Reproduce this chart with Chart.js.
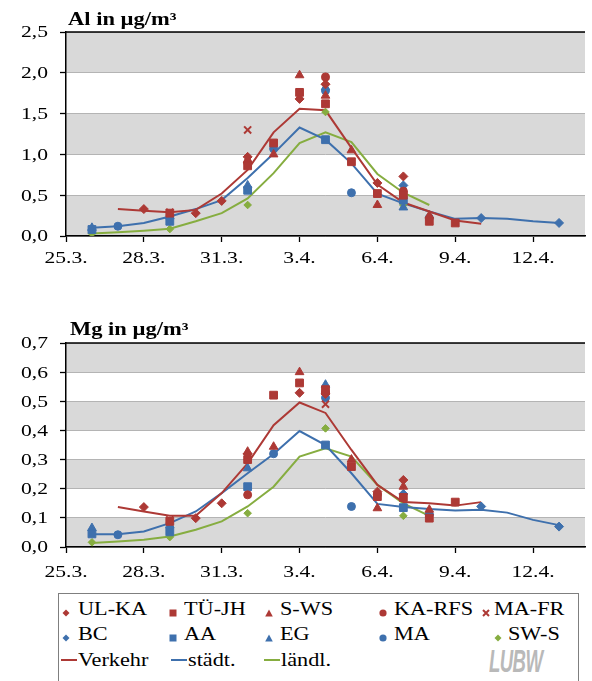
<!DOCTYPE html>
<html>
<head>
<meta charset="utf-8">
<script src="https://cdn.jsdelivr.net/npm/chart.js@4.4.1/dist/chart.umd.min.js"></script>
<style>
  body { margin: 0; width: 592px; height: 681px; overflow: hidden; background: #fff; position: relative;
         font-family: "Liberation Serif", "Times New Roman", serif; }
  #alChart { position: absolute; left: 0; top: 0; }
  #mgChart { position: absolute; left: 0; top: 290px; }
  #legend { position: absolute; left: 58px; top: 593px; width: 521px; height: 92px;
            border: 1.5px solid #7f7f7f; box-sizing: border-box; }
  .item { position: absolute; font-size: 19px; line-height: 22px; white-space: nowrap; color: #000;
          transform: scaleX(1.17); transform-origin: left center; }
  .mark { position: absolute; }
  #logo { position: absolute; left: 489px; top: 644px; font-family: "Liberation Sans", Arial, sans-serif;
          font-weight: bold; font-style: italic; font-size: 31px; color: #b9b9b9; letter-spacing: -1px;
          transform: scaleX(0.6); transform-origin: left top; }
</style>
</head>
<body>
<canvas id="alChart" width="592" height="290"></canvas>
<canvas id="mgChart" width="592" height="300"></canvas>
<div id="legend"></div>
<div id="logo">LUBW</div>
<script>
const N = null;
// x = day index, 0 = 25.3.
const days = ["25.3.", "26.3.", "27.3.", "28.3.", "29.3.", "30.3.", "31.3.", "1.4.", "2.4.", "3.4.",
              "4.4.", "5.4.", "6.4.", "7.4.", "8.4.", "9.4.", "10.4.", "11.4.", "12.4.", "13.4."];
const tickLabels = ["25.3.", "28.3.", "31.3.", "3.4.", "6.4.", "9.4.", "12.4."];

// Al in µg/m³
const alUlKa    = [N, N, N, 0.33, N, 0.28, 0.43, 0.97, N, 1.68, 1.86, N, 0.65, 0.73, N, N, N, N, N, N];
const alTuJh    = [N, N, N, N, 0.28, N, N, 0.86, 1.14, 1.76, 1.62, 0.91, 0.52, 0.50, 0.18, 0.16, N, N, N, N];
const alSWs     = [N, N, N, N, N, N, N, 0.93, 1.00, 1.97, 1.72, 1.05, 0.38, N, 0.25, N, N, N, N, N];
const alKaRfs   = [N, N, N, N, N, N, N, 0.90, N, N, 1.95, N, N, 0.55, N, N, N, N, N, N];
const alMaFr    = [N, N, N, N, 0.29, N, N, 1.30, N, N, 1.89, N, N, N, N, N, N, N, N, N];
const alBC      = [N, N, N, N, N, N, N, N, N, N, N, N, N, 0.62, N, N, 0.22, N, N, 0.16];
const alAA      = [N, 0.08, N, N, 0.18, N, N, 0.56, N, N, 1.18, N, N, 0.44, N, N, N, N, N, N];
const alEG      = [N, 0.10, N, N, 0.24, N, N, 0.62, N, N, 1.82, N, N, 0.35, N, N, N, N, N, N];
const alMA      = [N, N, 0.12, N, N, N, N, N, 1.07, N, 1.78, 0.53, N, N, 0.22, N, N, N, N, N];
const alSwS     = [N, 0.03, N, N, 0.085, N, N, 0.38, N, N, 1.52, N, N, 0.38, N, N, N, N, N, N];
const alVerkehr = [N, N, 0.33, 0.31, 0.29, 0.32, 0.52, 0.81, 1.27, 1.56, 1.54, 1.08, 0.63, 0.41, 0.30, 0.19, 0.15, N, N, N];
const alStaedt  = [N, 0.10, 0.12, 0.16, 0.24, 0.33, 0.44, 0.71, 1.01, 1.33, 1.18, 0.89, 0.52, 0.40, 0.30, 0.21, 0.22, 0.21, 0.18, 0.16];
const alLaendl  = [N, 0.03, 0.045, 0.065, 0.09, 0.18, 0.28, 0.46, 0.77, 1.14, 1.27, 1.15, 0.76, 0.53, 0.38, N, N, N, N, N];

// Mg in µg/m³
const mgUlKa    = [N, N, N, 0.137, N, 0.099, 0.15, 0.32, N, 0.529, 0.525, N, 0.19, 0.23, N, N, N, N, N, N];
const mgTuJh    = [N, N, N, N, 0.088, N, N, 0.30, 0.521, 0.563, 0.54, 0.276, 0.173, 0.17, 0.099, 0.154, N, N, N, N];
const mgSWs     = [N, N, N, N, N, N, N, 0.327, 0.344, 0.60, 0.535, 0.30, 0.133, 0.207, 0.128, N, N, N, N, N];
const mgKaRfs   = [N, N, N, N, N, N, N, 0.179, N, N, 0.53, N, 0.18, N, N, N, N, N, N, N];
const mgMaFr    = [N, N, N, N, 0.093, N, N, 0.31, N, N, 0.49, N, N, N, N, N, N, N, N, N];
const mgBC      = [N, N, N, N, N, N, N, N, N, N, N, N, N, 0.182, N, N, 0.139, N, N, 0.07];
const mgAA      = [N, 0.045, N, N, 0.052, N, N, 0.207, N, N, 0.35, N, N, 0.135, N, N, N, N, N, N];
const mgEG      = [N, 0.065, N, N, 0.075, N, N, 0.27, N, N, 0.557, N, N, N, 0.12, N, N, N, N, N];
const mgMA      = [N, N, 0.042, N, N, N, N, N, 0.32, N, 0.512, 0.139, N, N, 0.11, N, N, N, N, N];
const mgSwS     = [N, 0.016, N, N, 0.034, N, N, 0.116, N, N, 0.407, N, N, 0.107, N, N, N, N, N, N];
const mgVerkehr = [N, N, 0.137, 0.122, 0.107, 0.107, 0.185, 0.287, 0.418, 0.496, 0.46, 0.333, 0.213, 0.154, 0.15, 0.142, 0.154, N, N, N];
const mgStaedt  = [N, 0.044, 0.044, 0.053, 0.082, 0.122, 0.185, 0.253, 0.319, 0.398, 0.35, 0.253, 0.148, 0.137, 0.13, 0.125, 0.128, 0.118, 0.093, 0.075];
const mgLaendl  = [N, 0.014, 0.019, 0.025, 0.036, 0.059, 0.088, 0.139, 0.207, 0.31, 0.339, 0.31, 0.213, 0.15, 0.107, N, N, N, N, N];

const RED = "#ad3935";
const BLUE = "#3e70ad";
const GREEN = "#86ad40";
const FONT = "'Liberation Serif', 'Times New Roman', serif";
const SX = 1.27; // the original lettering is wide, stretch it

const stations = [
  { label: "UL-KA", color: RED, style: "rectRot", r: 4.5 },
  { label: "TÜ-JH", color: RED, style: "rect", r: 5.5 },
  { label: "S-WS", color: RED, style: "triangle", r: 5 },
  { label: "KA-RFS", color: RED, style: "circle", r: 4 },
  { label: "MA-FR", color: RED, style: "crossRot", r: 5 },
  { label: "BC", color: BLUE, style: "rectRot", r: 4.5 },
  { label: "AA", color: BLUE, style: "rect", r: 5.5 },
  { label: "EG", color: BLUE, style: "triangle", r: 5 },
  { label: "MA", color: BLUE, style: "circle", r: 4 },
  { label: "SW-S", color: GREEN, style: "rectRot", r: 3.8 }
];
const groups = [
  { label: "Verkehr", color: RED },
  { label: "städt.", color: BLUE },
  { label: "ländl.", color: GREEN }
];

function toPoints(arr) {
  return arr.map((v, i) => (v == null ? null : { x: i, y: v })).filter(p => p);
}

function stretchText(ctx, text, x, y, sx) {
  ctx.save();
  ctx.translate(x, y);
  ctx.scale(sx, 1);
  ctx.fillText(text, 0, 0);
  ctx.restore();
}

function makeChart(id, opt) {
  const datasets = [];
  opt.stations.forEach((arr, i) => {
    const s = stations[i];
    datasets.push({
      label: s.label, data: toPoints(arr), showLine: false,
      pointStyle: s.style, pointRadius: s.r, pointHoverRadius: s.r,
      pointBackgroundColor: s.color, pointBorderColor: s.color,
      pointBorderWidth: s.style == "crossRot" ? 2 : 1
    });
  });
  opt.lines.forEach((arr, i) => {
    const g = groups[i];
    datasets.push({
      label: g.label, data: toPoints(arr), borderColor: g.color, borderWidth: 2,
      pointRadius: 0, tension: 0, fill: false
    });
  });

  const deco = {
    id: "deco",
    beforeDraw(chart) {
      const { ctx, chartArea: a, scales: { y } } = chart;
      ctx.save();
      ctx.fillStyle = "#d9d9d9";
      for (let v = 0; v < opt.yMax - 1e-9; v += 2 * opt.step) {
        const top = y.getPixelForValue(Math.min(v + opt.step, opt.yMax));
        const bot = y.getPixelForValue(v);
        ctx.fillRect(a.left, top, a.right - a.left, bot - top);
      }
      ctx.restore();
    },
    afterDraw(chart) {
      const { ctx, chartArea: a, scales: { x, y } } = chart;
      ctx.save();
      ctx.strokeStyle = "#000";
      ctx.lineWidth = 1.5;
      ctx.beginPath();
      ctx.moveTo(a.left, a.top);
      ctx.lineTo(a.right, a.top);
      ctx.stroke();

      ctx.fillStyle = "#000";
      ctx.font = "17px " + FONT;
      ctx.textBaseline = "middle";
      ctx.textAlign = "right";
      y.ticks.forEach(t => {
        stretchText(ctx, t.value.toFixed(1).replace(".", ","), 48, y.getPixelForValue(t.value) + 1, SX);
      });
      ctx.textAlign = "center";
      x.ticks.forEach(t => {
        const lbl = tickLabels[t.value / 3];
        if (lbl) stretchText(ctx, lbl, x.getPixelForValue(t.value), a.bottom + opt.labelGap, SX);
      });

      ctx.textAlign = "left";
      ctx.textBaseline = "alphabetic";
      ctx.font = "bold 18px " + FONT;
      stretchText(ctx, opt.title, opt.titleX, opt.titleY, 1.25);
      ctx.restore();
    }
  };

  return new Chart(document.getElementById(id), {
    type: "line",
    data: { datasets },
    plugins: [deco],
    options: {
      responsive: false,
      animation: false,
      layout: { padding: { top: opt.padTop, right: 1, left: 0, bottom: 0 } },
      plugins: { legend: { display: false }, tooltip: { enabled: false } },
      scales: {
        x: {
          type: "linear", min: 0, max: 20,
          afterFit: s => { s.height = opt.xHeight; },
          ticks: {
            stepSize: 3, autoSkip: false, includeBounds: false, maxRotation: 0,
            callback: v => tickLabels[v / 3] || "",
            font: { family: FONT, size: 17 }, color: "rgba(0,0,0,0)", padding: 8
          },
          grid: { drawOnChartArea: false, drawTicks: true, tickLength: 6, tickColor: "#000", tickWidth: 1.3 },
          border: { color: "#000", width: 1.5 }
        },
        y: {
          min: 0, max: opt.yMax,
          afterFit: s => { s.width = 66; },
          ticks: {
            stepSize: opt.step,
            callback: v => v.toFixed(1).replace(".", ","),
            font: { family: FONT, size: 17 }, color: "rgba(0,0,0,0)", padding: 12
          },
          grid: { color: "#b4b4b4", lineWidth: 1, drawTicks: true, tickLength: 6, tickColor: "#000", tickWidth: 1.3 },
          border: { color: "#000", width: 1.5 }
        }
      }
    }
  });
}

makeChart("alChart", {
  title: "Al in µg/m³", titleX: 68, titleY: 25,
  yMax: 2.5, step: 0.5, padTop: 32, xHeight: 54, labelGap: 23,
  stations: [alUlKa, alTuJh, alSWs, alKaRfs, alMaFr, alBC, alAA, alEG, alMA, alSwS],
  lines: [alVerkehr, alStaedt, alLaendl]
});

makeChart("mgChart", {
  title: "Mg in µg/m³", titleX: 70, titleY: 45,
  yMax: 0.7, step: 0.1, padTop: 53, xHeight: 43, labelGap: 26,
  stations: [mgUlKa, mgTuJh, mgSWs, mgKaRfs, mgMaFr, mgBC, mgAA, mgEG, mgMA, mgSwS],
  lines: [mgVerkehr, mgStaedt, mgLaendl]
});

// legend, laid out like the original box
function markerSvg(style, color) {
  let shape = "";
  if (style == "rectRot") shape = `<polygon points="5,1.5 8.5,5 5,8.5 1.5,5" fill="${color}"/>`;
  if (style == "rect") shape = `<rect x="1.5" y="1.5" width="7" height="7" fill="${color}"/>`;
  if (style == "triangle") shape = `<polygon points="5,1.5 8.8,8.5 1.2,8.5" fill="${color}"/>`;
  if (style == "circle") shape = `<circle cx="5" cy="5" r="3.6" fill="${color}"/>`;
  if (style == "crossRot") shape = `<path d="M2,2 L8,8 M8,2 L2,8" stroke="${color}" stroke-width="2"/>`;
  return `<svg width="10" height="10">${shape}</svg>`;
}
const legendX = [7, 114, 210, 324, 427];
const legendTextX = [19, 125, 221, 335, 435];
const legendRowY = [15, 40, 66];
const legend = document.getElementById("legend");
let html = "";
stations.forEach((s, i) => {
  const col = i % 5, row = Math.floor(i / 5);
  let mx = legendX[col], tx = legendTextX[col];
  if (s.label == "SW-S") { mx = 439; tx = 449; }
  const my = legendRowY[row];
  html += `<div class="mark" style="left:${mx - 5}px;top:${my - 5}px">${markerSvg(s.style, s.color)}</div>`;
  html += `<div class="item" style="left:${tx}px;top:${my - 11}px">${s.label}</div>`;
});
const lineX = [2, 112, 205];
groups.forEach((g, i) => {
  const my = legendRowY[2];
  html += `<div class="mark" style="left:${lineX[i]}px;top:${my - 1}px;width:16px;height:2px;background:${g.color}"></div>`;
  html += `<div class="item" style="left:${lineX[i] + 17}px;top:${my - 11}px">${g.label}</div>`;
});
legend.innerHTML = html;
</script>
</body>
</html>
